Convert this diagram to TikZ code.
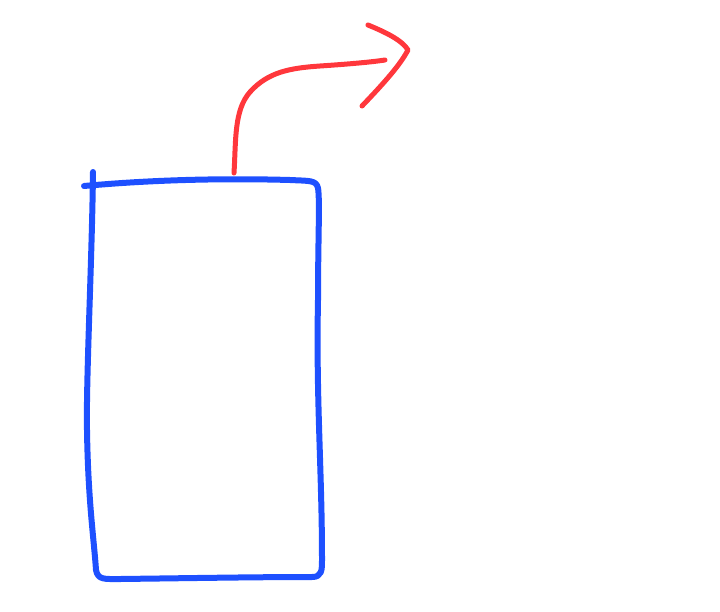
\documentclass[tikz,border=0pt]{standalone}
\begin{document}
\begin{tikzpicture}[x=1pt,y=-1pt,
  bluepen/.style={draw={rgb,255:red,30;green,80;blue,255},line width=6pt,line cap=round,line join=round},
  redpen/.style={draw={rgb,255:red,255;green,55;blue,60},line width=5pt,line cap=round,line join=round}]
\useasboundingbox (0,0) rectangle (720,611);
% box
\coordinate (tl) at (84,186);
\coordinate (tr) at (316,181);
\coordinate (br) at (322,574);
\coordinate (bl) at (96,577);
\draw[bluepen] (93,172) .. controls (92,260) and (86,380) .. (87,430)
  .. controls (88,500) and (94,540) .. (96,570)
  .. controls (98,580) and (104,579) .. (120,579)
  .. controls (200,578) and (260,577) .. (312,577)
  .. controls (322,577) and (322,570) .. (322,560)
  .. controls (322,470) and (316,400) .. (318,300)
  .. controls (318,240) and (320,200) .. (318,188)
  .. controls (316,180) and (310,181) .. (290,180)
  .. controls (220,178) and (150,180) .. (84,186);
% arrow
\coordinate (s) at (234,173);
\draw[redpen] (s) .. controls (236,140) and (234,110) .. (250,92)
  .. controls (268,72) and (290,68) .. (320,66)
  .. controls (350,64) and (372,62) .. (385,60);
\draw[redpen] (368,25) .. controls (385,32) and (402,40) .. (408,50)
  .. controls (400,65) and (385,82) .. (362,106);
\end{tikzpicture}
\end{document}
